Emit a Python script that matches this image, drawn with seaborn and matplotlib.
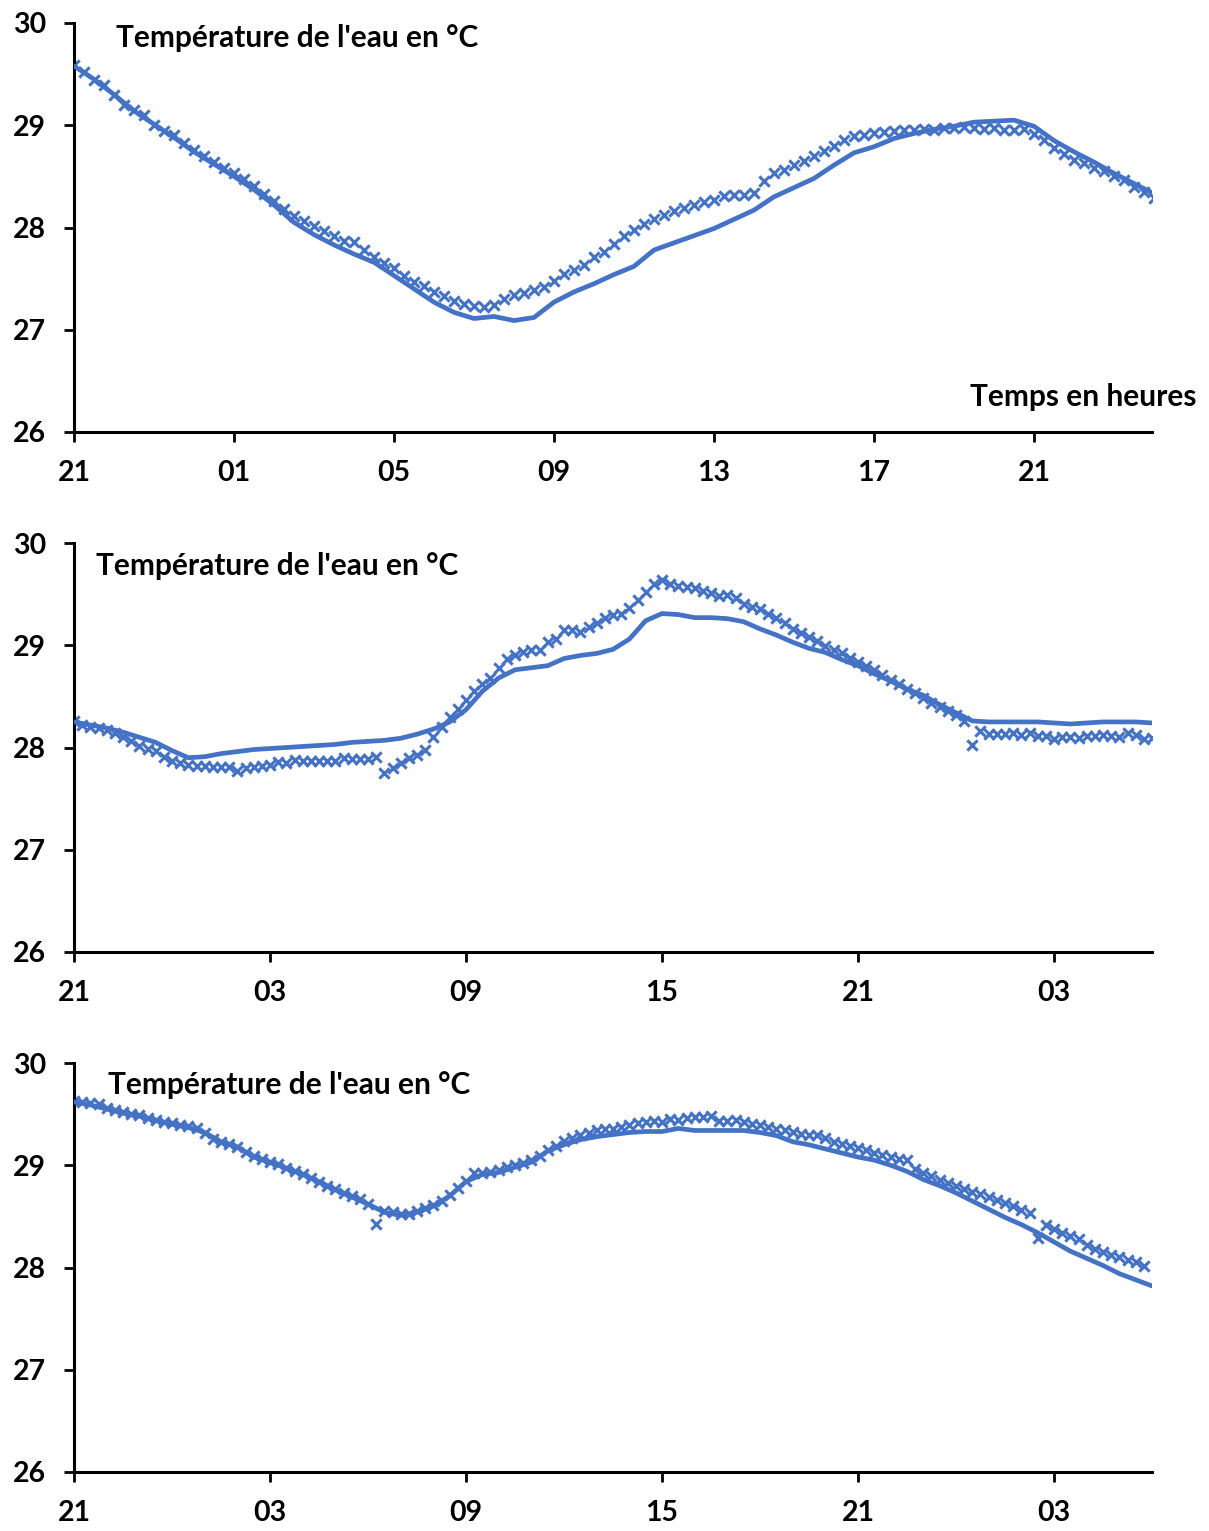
import numpy as np
import pandas as pd
import seaborn as sns
import matplotlib.pyplot as plt

BLUE = "#4472C4"

# heures depuis 21h ; mesures (x) toutes les 15 min, courbe toutes les 30 min
MES_STEP = 0.25
LINE_STEP = 0.5

p1_mes = [29.59, 29.52, 29.44, 29.39, 29.30, 29.20, 29.15, 29.10, 29.00, 28.94,
          28.90, 28.83, 28.76, 28.70, 28.64, 28.58, 28.53, 28.47, 28.41, 28.33,
          28.26, 28.18, 28.11, 28.06, 28.01, 27.97, 27.92, 27.87, 27.86, 27.78,
          27.71, 27.65, 27.60, 27.53, 27.47, 27.43, 27.37, 27.33, 27.28, 27.25,
          27.23, 27.22, 27.24, 27.30, 27.34, 27.36, 27.39, 27.42, 27.48, 27.55,
          27.58, 27.63, 27.71, 27.76, 27.84, 27.92, 27.98, 28.03, 28.08, 28.12,
          28.16, 28.19, 28.22, 28.25, 28.27, 28.31, 28.32, 28.32, 28.34, 28.45,
          28.53, 28.56, 28.61, 28.65, 28.70, 28.75, 28.80, 28.86, 28.89, 28.90,
          28.92, 28.93, 28.94, 28.95, 28.95, 28.96, 28.95, 28.97, 28.97, 28.98,
          28.97, 28.96, 28.97, 28.95, 28.95, 28.96, 28.91, 28.86, 28.78, 28.72,
          28.66, 28.63, 28.58, 28.55, 28.50, 28.46, 28.40, 28.35, 28.29]
p1_line = [29.58, 29.45, 29.30, 29.14, 29.01, 28.88, 28.74, 28.62, 28.50, 28.37,
           28.22, 28.05, 27.93, 27.83, 27.74, 27.66, 27.53, 27.40, 27.27, 27.17,
           27.11, 27.13, 27.09, 27.12, 27.27, 27.37, 27.45, 27.54, 27.62, 27.78,
           27.85, 27.92, 27.99, 28.08, 28.17, 28.30, 28.39, 28.48, 28.61, 28.73,
           28.79, 28.87, 28.92, 28.96, 28.99, 29.03, 29.04, 29.05, 28.99, 28.85,
           28.74, 28.64, 28.53, 28.43, 28.33]

p2_mes = [28.26, 28.22, 28.20, 28.19, 28.17, 28.14, 28.10, 28.06, 28.01, 27.99,
          27.97, 27.91, 27.87, 27.85, 27.83, 27.82, 27.82, 27.81, 27.81, 27.81,
          27.77, 27.80, 27.81, 27.82, 27.83, 27.86, 27.85, 27.88, 27.87, 27.87,
          27.87, 27.87, 27.87, 27.90, 27.89, 27.89, 27.89, 27.91, 27.75, 27.80,
          27.85, 27.90, 27.93, 27.98, 28.10, 28.20, 28.30, 28.38, 28.46, 28.55,
          28.62, 28.68, 28.78, 28.87, 28.90, 28.93, 28.95, 28.95, 29.03, 29.06,
          29.15, 29.15, 29.13, 29.18, 29.22, 29.27, 29.30, 29.31, 29.36, 29.44,
          29.52, 29.60, 29.64, 29.60, 29.58, 29.57, 29.56, 29.53, 29.51, 29.48,
          29.49, 29.46, 29.40, 29.37, 29.35, 29.31, 29.27, 29.22, 29.16, 29.12,
          29.08, 29.04, 28.99, 28.95, 28.92, 28.88, 28.84, 28.80, 28.76, 28.71,
          28.66, 28.62, 28.57, 28.53, 28.48, 28.44, 28.40, 28.36, 28.32, 28.26,
          28.02, 28.16, 28.13, 28.13, 28.13, 28.14, 28.12, 28.14, 28.11, 28.11,
          28.08, 28.10, 28.10, 28.09, 28.11, 28.11, 28.12, 28.11, 28.10, 28.14,
          28.12, 28.08, 28.09]
p2_line = [28.25, 28.22, 28.19, 28.15, 28.10, 28.05, 27.97, 27.90, 27.91, 27.94,
           27.96, 27.98, 27.99, 28.00, 28.01, 28.02, 28.03, 28.05, 28.06, 28.07,
           28.09, 28.13, 28.18, 28.25, 28.37, 28.55, 28.68, 28.76, 28.78, 28.80,
           28.87, 28.90, 28.92, 28.96, 29.06, 29.24, 29.31, 29.30, 29.27, 29.27,
           29.26, 29.23, 29.16, 29.10, 29.03, 28.97, 28.93, 28.86, 28.80, 28.72,
           28.65, 28.57, 28.51, 28.42, 28.34, 28.26, 28.25, 28.25, 28.25, 28.25,
           28.24, 28.23, 28.24, 28.25, 28.25, 28.25, 28.24]

p3_mes = [29.63, 29.62, 29.61, 29.60, 29.56, 29.54, 29.52, 29.50, 29.49, 29.46,
          29.44, 29.42, 29.41, 29.39, 29.38, 29.36, 29.32, 29.26, 29.23, 29.21,
          29.18, 29.13, 29.09, 29.06, 29.03, 29.01, 28.97, 28.94, 28.91, 28.88,
          28.84, 28.80, 28.77, 28.73, 28.70, 28.67, 28.62, 28.43, 28.55, 28.54,
          28.52, 28.52, 28.55, 28.58, 28.61, 28.65, 28.71, 28.78, 28.85, 28.92,
          28.92, 28.93, 28.95, 28.98, 29.00, 29.02, 29.05, 29.09, 29.15, 29.19,
          29.24, 29.27, 29.30, 29.32, 29.34, 29.35, 29.35, 29.37, 29.39, 29.41,
          29.42, 29.43, 29.42, 29.45, 29.44, 29.46, 29.47, 29.47, 29.48, 29.43,
          29.43, 29.44, 29.42, 29.40, 29.39, 29.37, 29.35, 29.34, 29.33, 29.31,
          29.30, 29.30, 29.27, 29.23, 29.21, 29.19, 29.17, 29.15, 29.12, 29.10,
          29.08, 29.06, 29.05, 28.96, 28.92, 28.89, 28.86, 28.83, 28.80, 28.77,
          28.74, 28.72, 28.69, 28.66, 28.63, 28.60, 28.56, 28.53, 28.29, 28.42,
          28.38, 28.34, 28.31, 28.28, 28.22, 28.18, 28.15, 28.12, 28.10, 28.07,
          28.05, 28.01]
p3_line = [29.62, 29.59, 29.55, 29.51, 29.48, 29.44, 29.40, 29.37, 29.32, 29.23,
           29.18, 29.08, 29.03, 28.97, 28.91, 28.84, 28.76, 28.69, 28.62, 28.54,
           28.51, 28.54, 28.60, 28.70, 28.84, 28.91, 28.93, 28.98, 29.03, 29.14,
           29.20, 29.25, 29.28, 29.30, 29.32, 29.33, 29.33, 29.36, 29.34, 29.34,
           29.34, 29.34, 29.32, 29.29, 29.23, 29.20, 29.16, 29.12, 29.08, 29.05,
           29.00, 28.94, 28.86, 28.80, 28.73, 28.65, 28.57, 28.49, 28.42, 28.34,
           28.25, 28.16, 28.09, 28.02, 27.94, 27.88, 27.82]

p1_ticklabels = ["21", "01", "05", "09", "13", "17", "21"]
p23_ticklabels = ["21", "03", "09", "15", "21", "03"]

TITLE = "Température de l'eau en °C"

sns.set_style("ticks")
plt.rcParams["font.family"] = ["Lato", "DejaVu Sans"]
plt.rcParams["font.weight"] = "bold"
plt.rcParams["text.color"] = "black"


def panel(ax, mes, line, xmax, tick_every, ticklabels, title_xy):
    dm = pd.DataFrame({"h": np.arange(len(mes)) * MES_STEP, "t": mes})
    dl = pd.DataFrame({"h": np.arange(len(line)) * LINE_STEP, "t": line})
    sns.scatterplot(data=dm, x="h", y="t", marker="x", s=55, color=BLUE,
                    linewidth=2.2, ax=ax, zorder=2)
    sns.lineplot(data=dl, x="h", y="t", color=BLUE, linewidth=3.4, ax=ax,
                 zorder=3)
    ax.set_xlim(0, xmax)
    ax.set_ylim(26, 30)
    ax.set_yticks([26, 27, 28, 29, 30])
    ax.set_xticks(np.arange(len(ticklabels)) * tick_every)
    ax.set_xticklabels(ticklabels)
    ax.set_xlabel("")
    ax.set_ylabel("")
    for s in ["top", "right"]:
        ax.spines[s].set_visible(False)
    for s in ["left", "bottom"]:
        ax.spines[s].set_linewidth(2.2)
        ax.spines[s].set_color("black")
    ax.tick_params(direction="out", length=7, width=2, pad=13, labelsize=20.5,
                   colors="black")
    ax.text(title_xy[0], title_xy[1], TITLE, transform=ax.transAxes,
            ha="left", va="center", fontsize=21.5, fontweight="bold",
            color="black")


fig = plt.figure(figsize=(12.09, 15.31), dpi=100)
left, width, height = 74 / 1209, 1078 / 1209, 409 / 1531
ax1 = fig.add_axes([left, 1 - 432 / 1531, width, height])
ax2 = fig.add_axes([left, 1 - 952 / 1531, width, height])
ax3 = fig.add_axes([left, 1 - 1472 / 1531, width, height])

panel(ax1, p1_mes, p1_line, 26.95, 4, p1_ticklabels, (0.039, 0.963))
panel(ax2, p2_mes, p2_line, 33.0, 6, p23_ticklabels, (0.020, 0.944))
panel(ax3, p3_mes, p3_line, 33.0, 6, p23_ticklabels, (0.0315, 0.946))

ax1.text(1.041, 0.0856, "Temps en heures", transform=ax1.transAxes,
         ha="right", va="center", fontsize=21.5, fontweight="bold",
         color="black", clip_on=False)

fig.savefig("out.png", dpi=100)
